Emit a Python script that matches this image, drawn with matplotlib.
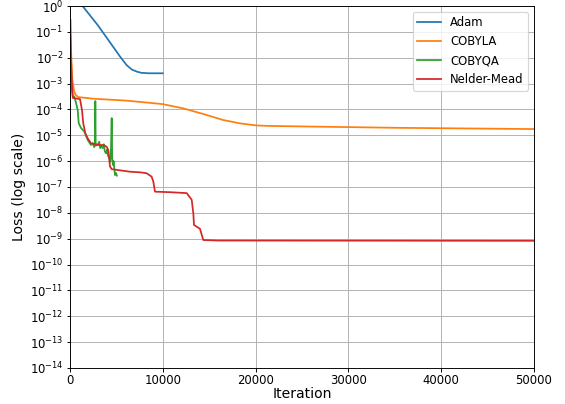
import matplotlib
matplotlib.use("Agg")
import matplotlib.pyplot as plt
from matplotlib.ticker import NullLocator

# Adam
adam_iter = [0, 1260, 3000, 5400, 6100, 6650, 7200, 7700, 8500, 10000]
adam_loss = [4.4, 1.1, 0.18, 0.011, 5.2e-3, 3.5e-3, 2.9e-3, 2.6e-3, 2.5e-3, 2.5e-3]

# COBYLA
cobyla_iter = [0, 100, 250, 450, 615, 900, 2500, 6000, 8600, 10000, 12200,
               14400, 16500, 18300, 20100, 21500, 25000, 35000, 50000]
cobyla_loss = [0.45, 0.025, 1.4e-3, 5.0e-4, 3.6e-4, 3.0e-4, 2.6e-4, 2.2e-4,
               1.8e-4, 1.6e-4, 1.1e-4, 6.6e-5, 3.9e-5, 2.9e-5, 2.4e-5,
               2.3e-5, 2.2e-5, 1.95e-5, 1.74e-5]

# COBYQA
cobyqa_iter = [50, 130, 300, 460, 650, 830, 940, 1190, 1540, 1910, 2260, 2450,
               2600, 2690, 2730, 2770, 2985, 3150, 3250, 3400, 3520, 3650, 3750,
               3880, 4000, 4100, 4235, 4340, 4420, 4490, 4550, 4630, 4700, 4850,
               4950, 5050]
cobyqa_loss = [0.29, 1e-3, 3.2e-4, 3.1e-4, 1.8e-4, 9.5e-5, 2.9e-5, 1.9e-5,
               1.4e-5, 6.6e-6, 4.2e-6, 5.0e-6, 3.5e-6, 4.2e-6, 2.1e-4, 4.0e-6,
               4.2e-6, 5.6e-6, 3.2e-6, 4.0e-6, 3.2e-6, 4.5e-6, 2.4e-6, 2.0e-6,
               2.8e-6, 1.6e-6, 1.3e-6, 9.3e-7, 3.2e-6, 4.6e-5, 1.26e-6, 7.1e-7,
               1.0e-6, 2.9e-7, 3.5e-7, 2.75e-7]

# Nelder-Mead
nm_iter = [0, 100, 200, 300, 1080, 1290, 1430, 1650, 1910, 2260, 3160, 3590,
           3950, 4130, 4310, 4490, 5030, 6470, 7540, 8265, 8800, 8980, 9160,
           10780, 12575, 13115, 13290, 13360, 14010, 14360, 16000, 50000]
nm_loss = [0.12, 1e-2, 1e-3, 2.8e-4, 2.5e-4, 9.5e-5, 2.9e-5, 1.2e-5, 7.6e-6,
           4.9e-6, 4.2e-6, 4.2e-6, 3.6e-6, 2.7e-6, 6.2e-7, 4.9e-7, 4.6e-7,
           3.9e-7, 3.7e-7, 3.4e-7, 2.5e-7, 1.6e-7, 6.6e-8, 6.3e-8, 5.8e-8,
           3.2e-8, 9.5e-9, 3.4e-9, 2.4e-9, 8.9e-10, 8.5e-10, 8.3e-10]

fig = plt.figure(figsize=(565 / 84, 404 / 84), dpi=84)
ax = fig.add_axes([70 / 565, 1 - 368 / 404, 464 / 565, 362 / 404])

ax.plot(adam_iter, adam_loss, label="Adam")
ax.plot(cobyla_iter, cobyla_loss, label="COBYLA")
ax.plot(cobyqa_iter, cobyqa_loss, label="COBYQA")
ax.plot(nm_iter, nm_loss, label="Nelder-Mead")

ax.set_yscale("log")
ax.set_ylim(1e-14, 1)
ax.set_xlim(0, 50000)
ax.set_yticks([10.0 ** -k for k in range(15)])
ax.yaxis.set_minor_locator(NullLocator())
ax.tick_params(length=3, pad=2.5)
ax.set_xlabel("Iteration", fontsize=12, labelpad=0)
ax.set_ylabel("Loss (log scale)", fontsize=12, labelpad=3)
ax.grid(True)
ax.legend(loc="upper right")

fig.savefig("out.png", dpi=84)
